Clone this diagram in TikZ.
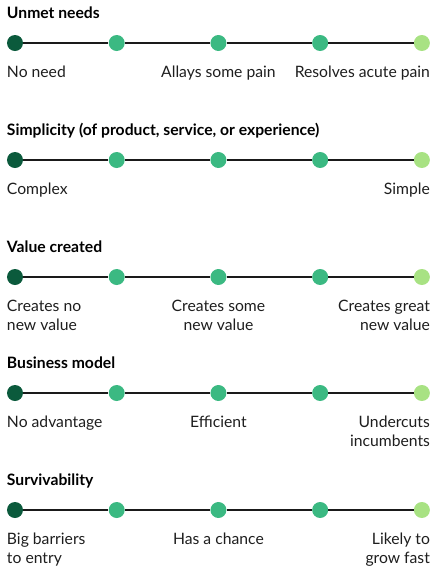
\documentclass[tikz,border=0pt]{standalone}
\usepackage{fontspec}
\setmainfont{Lato}
\usepackage{xcolor}
\usetikzlibrary{
  positioning
}
\definecolor{DotDark}{HTML}{0B5A3C}
\definecolor{DotMid}{HTML}{3BB982}
\definecolor{DotLight}{HTML}{A8E283}
\definecolor{TrackBlack}{HTML}{1A1A1A}
\definecolor{TextGray}{HTML}{1E1E1E}
\tikzset{
  dot/.style={
    circle,
    inner sep=0pt,
    minimum size=0.48cm
  },
  firstdot/.style={
    dot,
    fill=DotDark
  },
  middot/.style={
    dot,
    fill=DotMid,
    right=2.5575cm of #1
  },
  lastdot/.style={
    dot,
    fill=DotLight,
    right=2.5575cm of #1
  },
  track/.style={
    draw=TrackBlack,
    line width=1.1pt
  },
  heading/.style={
    inner sep=0pt,
    text=black,
    font=\fontsize{13.4}{16.2}\selectfont\bfseries
  },
  scale label/.style={
    inner sep=0pt,
    text=TextGray,
    font=\fontsize{13.4}{16.2}\selectfont
  }
}

\begin{document}
\begin{tikzpicture}[
  x=0.03cm,
  y=-0.03cm
]

  \useasboundingbox (0,0) rectangle (442,575);

  % unmet needs
  \node[firstdot] (needs1) at (15,43) {};
  \node[middot=needs1] (needs2) {};
  \node[middot=needs2] (needs3) {};
  \node[middot=needs3] (needs4) {};
  \node[lastdot=needs4] (needs5) {};
  \node[heading, above=0.75cm of needs1.west, anchor=base west] (needstitle) {Unmet needs};
  \node[scale label, below=1.04cm of needs1.west, anchor=base west, align=left] (needslow) {No need};
  \node[scale label, below=1.04cm of needs3.center, anchor=base, align=center] (needsmid) {Allays some pain};
  \node[scale label, below=1.04cm of needs5.east, anchor=base east, align=right] (needshigh) {Resolves acute pain};

  % simplicity
  \node[firstdot] (simp1) at (15,160) {};
  \node[middot=simp1] (simp2) {};
  \node[middot=simp2] (simp3) {};
  \node[middot=simp3] (simp4) {};
  \node[lastdot=simp4] (simp5) {};
  \node[heading, above=0.75cm of simp1.west, anchor=base west] (simptitle) {Simplicity (of product, service, or experience)};
  \node[scale label, below=1.04cm of simp1.west, anchor=base west, align=left] (simplow) {Complex};
  \node[scale label, below=1.04cm of simp5.east, anchor=base east, align=right] (simphigh) {Simple};

  % value created (two lines: base sits on the second line)
  \node[firstdot] (value1) at (15,277) {};
  \node[middot=value1] (value2) {};
  \node[middot=value2] (value3) {};
  \node[middot=value3] (value4) {};
  \node[lastdot=value4] (value5) {};
  \node[heading, above=0.75cm of value1.west, anchor=base west] (valuetitle) {Value created};
  \node[scale label, below=1.61cm of value1.west, anchor=base west, align=left] (valuelow) {Creates no\\new value};
  \node[scale label, below=1.61cm of value3.center, anchor=base, align=center] (valuemid) {Creates some\\new value};
  \node[scale label, below=1.61cm of value5.east, anchor=base east, align=right] (valuehigh) {Creates great\\new value};

  % business model
  \node[firstdot] (model1) at (15,393) {};
  \node[middot=model1] (model2) {};
  \node[middot=model2] (model3) {};
  \node[middot=model3] (model4) {};
  \node[lastdot=model4] (model5) {};
  \node[heading, above=0.75cm of model1.west, anchor=base west] (modeltitle) {Business model};
  \node[scale label, below=1.04cm of model1.west, anchor=base west, align=left] (modellow) {No advantage};
  \node[scale label, below=1.04cm of model3.center, anchor=base, align=center] (modelmid) {Efficient};
  \node[scale label, below=1.61cm of model5.east, anchor=base east, align=right] (modelhigh) {Undercuts\\incumbents};

  % survivability
  \node[firstdot] (surv1) at (15,510) {};
  \node[middot=surv1] (surv2) {};
  \node[middot=surv2] (surv3) {};
  \node[middot=surv3] (surv4) {};
  \node[lastdot=surv4] (surv5) {};
  \node[heading, above=0.75cm of surv1.west, anchor=base west] (survtitle) {Survivability};
  \node[scale label, below=1.61cm of surv1.west, anchor=base west, align=left] (survlow) {Big barriers\\to entry};
  \node[scale label, below=1.04cm of surv3.center, anchor=base, align=center] (survmid) {Has a chance};
  \node[scale label, below=1.61cm of surv5.east, anchor=base east, align=right] (survhigh) {Likely to\\grow fast};

  % tracks
  \draw[track] (needs1) -- (needs2) -- (needs3) -- (needs4) -- (needs5);
  \draw[track] (simp1) -- (simp2) -- (simp3) -- (simp4) -- (simp5);
  \draw[track] (value1) -- (value2) -- (value3) -- (value4) -- (value5);
  \draw[track] (model1) -- (model2) -- (model3) -- (model4) -- (model5);
  \draw[track] (surv1) -- (surv2) -- (surv3) -- (surv4) -- (surv5);

\end{tikzpicture}
\end{document}
